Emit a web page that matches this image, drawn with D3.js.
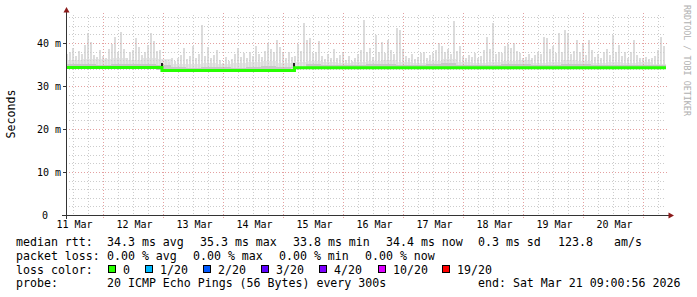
<!DOCTYPE html>
<html lang="en">
<head>
<meta charset="utf-8">
<title>SmokePing - median rtt</title>
<script src="https://d3js.org/d3.v7.min.js"></script>
<style>
  body { margin: 0; background: #fff; }
  text { font-family: "DejaVu Sans Mono", monospace; fill: #000; }
</style>
</head>
<body>
<div id="chart"></div>
<script>
// graph window (UTC), one smoke slot = 72 minutes, one base slot = 6 hours
const startTime = new Date(Date.UTC(2026, 2, 11, 9, 0, 56));
const endTime = new Date(Date.UTC(2026, 2, 21, 9, 0, 56));
const slotMinutes = 72;
const baseMinutes = 360;

// top of the smoke (max rtt, ms) per 72 min slot
const smokeTop = [
  37.5, 38.0, 38.8, 37.0, 38.2, 37.4, 39.5, 42.4, 40.2, 37.2,
  36.8, 38.4, 37.0, 36.4, 38.6, 39.8, 41.5, 38.0, 42.6, 38.5,
  36.6, 37.8, 38.4, 41.1, 39.0, 37.2, 38.0, 39.6, 42.3, 40.5,
  38.2, 38.4, 35.2, 36.0, 35.6, 36.6, 35.8, 36.4, 37.2, 38.8,
  36.2, 37.0, 39.2, 36.6, 37.4, 44.2, 37.0, 39.0, 36.4, 37.2,
  38.4, 36.0, 35.4, 36.8, 35.8, 36.2, 37.4, 38.8, 36.8, 37.6,
  36.4, 38.0, 37.0, 39.2, 37.4, 36.8, 38.2, 40.0, 38.6, 37.8,
  40.6, 39.0, 37.6, 36.6, 37.8, 36.8, 37.0, 39.8, 38.2, 44.6,
  40.6, 41.2, 37.6, 38.0, 40.4, 37.0, 36.2, 37.4, 36.6, 38.6,
  36.4, 37.2, 37.6, 36.0, 37.0, 35.8, 36.6, 37.4, 38.4, 45.3,
  37.8, 38.8, 36.8, 41.9, 38.0, 40.2, 37.6, 40.8, 38.4, 37.4,
  43.4, 43.0, 38.6, 37.0, 36.6, 37.4, 36.2, 36.8, 37.6, 38.0,
  36.6, 37.2, 37.6, 38.4, 40.0, 39.4, 38.0, 38.6, 37.4, 45.0,
  38.2, 39.4, 37.0, 36.4, 37.2, 36.8, 37.6, 36.4, 37.0, 38.4,
  41.5, 38.6, 44.6, 37.4, 38.0, 37.6, 39.4, 39.8, 38.8, 40.0,
  38.2, 37.6, 36.4, 36.8, 37.4, 36.6, 37.2, 38.0, 37.4, 41.5,
  41.2, 38.6, 39.4, 37.6, 42.4, 38.0, 43.0, 42.2, 37.4, 38.2,
  40.6, 37.8, 40.0, 37.2, 40.7, 38.4, 36.8, 37.4, 36.6, 38.0,
  38.6, 37.2, 41.9, 37.8, 39.6, 37.0, 37.8, 36.6, 38.0, 40.6,
  37.2, 36.4, 36.6, 36.8, 36.2, 36.6, 37.0, 38.4, 41.5, 39.4
];

// dense smoke top (ms) per 6 h slot
const smokeBase = [
  36.0, 36.3, 36.2, 36.5, 36.0, 36.4, 36.2, 35.2, 35.0, 35.4,
  35.0, 35.3, 35.6, 35.8, 35.4, 35.6, 35.8, 35.6, 35.3, 35.5,
  35.9, 36.0, 35.6, 35.4, 35.8, 36.2, 35.6, 35.3, 35.5, 35.9,
  36.0, 35.4, 35.6, 36.1, 35.8, 35.3, 35.5, 35.4, 35.6, 35.2
];

// darker inner smoke top (ms) per 6 h slot
const smokeInner = [
  35.0, 35.1, 34.9, 35.2, 35.0, 35.1, 34.9, 34.3, 34.2, 34.4,
  34.3, 34.2, 34.5, 34.6, 34.4, 34.5, 35.0, 34.9, 34.8, 34.9,
  35.1, 35.2, 34.9, 34.8, 35.0, 35.3, 34.9, 34.8, 34.9, 35.1,
  35.2, 34.8, 34.9, 35.2, 35.0, 34.8, 34.9, 34.8, 34.9, 34.8
];

// median rtt (ms), step changes
const medianStart = ["2026-03-11T09:00:56Z", "2026-03-12T23:24:00Z", "2026-03-15T04:24:00Z"];
const medianValue = [34.3, 33.6, 34.25];

// dark smoke at the two median jumps
const jumpTime = ["2026-03-12T23:24:00Z", "2026-03-15T04:24:00Z"];
const jumpLow = [33.7, 33.9];
const jumpHigh = [35.3, 35.3];

const yTicks = [0, 10, 20, 30, 40];
const yTickLabels = ["0", "10 m", "20 m", "30 m", "40 m"];
const dayLabels = ["11 Mar", "12 Mar", "13 Mar", "14 Mar", "15 Mar", "16 Mar", "17 Mar", "18 Mar", "19 Mar", "20 Mar"];

const lossLabels = ["0", "1/20", "2/20", "3/20", "4/20", "10/20", "19/20"];
const lossColors = ["#26ff00", "#00b8ff", "#0059ff", "#5e00ff", "#7e00ff", "#dd00ff", "#ff0000"];

const rttStats = ["34.3 ms avg", "35.3 ms max", "33.8 ms min", "34.4 ms now", "0.3 ms sd", "123.8", "am/s"];
const lossStats = ["0.00 % avg", "0.00 % max", "0.00 % min", "0.00 % now"];

const W = 697, H = 297;
const svg = d3.select("#chart").append("svg")
  .attr("width", W).attr("height", H)
  .style("display", "block");

const x = d3.scaleUtc().domain([startTime, endTime]).range([66, 666]);
const y = d3.scaleLinear().domain([0, 46.5]).range([215, 15]);

const medianDates = medianStart.map(d => new Date(d));
const bis = d3.bisector(d => d).right;
function medianAt(t) {
  const i = Math.max(0, bis(medianDates, t) - 1);
  return medianValue[i];
}

svg.append("clipPath").attr("id", "plot")
  .append("rect").attr("x", 66).attr("y", 15).attr("width", 600).attr("height", 200);

const g = svg.append("g").attr("clip-path", "url(#plot)").attr("shape-rendering", "crispEdges");

// dense smoke
g.selectAll("rect.base").data(smokeBase).join("rect")
  .attr("x", (d, i) => x(d3.utcMinute.offset(startTime, i * baseMinutes)))
  .attr("width", (d, i) => x(d3.utcMinute.offset(startTime, (i + 1) * baseMinutes)) - x(d3.utcMinute.offset(startTime, i * baseMinutes)))
  .attr("y", d => y(d))
  .attr("height", (d, i) => Math.max(0, y(medianAt(d3.utcMinute.offset(startTime, i * baseMinutes + 180))) - y(d)))
  .attr("fill", "#e6e6e6");

// spikes
g.selectAll("rect.spike").data(smokeTop).join("rect")
  .attr("x", (d, i) => Math.round(x(d3.utcMinute.offset(startTime, i * slotMinutes))))
  .attr("width", 2)
  .attr("y", d => y(d))
  .attr("height", (d, i) => Math.max(0, y(medianAt(d3.utcMinute.offset(startTime, i * slotMinutes))) - y(d)))
  .attr("fill", "#dcdcdc");

// inner smoke
g.selectAll("rect.inner").data(smokeInner).join("rect")
  .attr("x", (d, i) => x(d3.utcMinute.offset(startTime, i * baseMinutes)))
  .attr("width", (d, i) => x(d3.utcMinute.offset(startTime, (i + 1) * baseMinutes)) - x(d3.utcMinute.offset(startTime, i * baseMinutes)))
  .attr("y", d => y(d))
  .attr("height", (d, i) => Math.max(0, y(medianAt(d3.utcMinute.offset(startTime, i * baseMinutes + 180))) - y(d)))
  .attr("fill", "#c8c8c8");

// grid
const grid = svg.append("g").attr("shape-rendering", "crispEdges");
const minorX = d3.utcHour.every(6).range(startTime, endTime).filter(t => t.getUTCHours() !== 0);
const majorX = d3.utcDay.range(startTime, endTime);
const minorY = d3.range(2, 47, 2).filter(v => v % 10 !== 0 && v <= 46.5);

grid.selectAll("line.mx").data(minorX).join("line")
  .attr("x1", d => Math.round(x(d)) + 0.5).attr("x2", d => Math.round(x(d)) + 0.5)
  .attr("y1", 15).attr("y2", 215)
  .attr("stroke", "#cccccc").attr("stroke-dasharray", "1,2");
grid.selectAll("line.my").data(minorY).join("line")
  .attr("x1", 66).attr("x2", 666)
  .attr("y1", d => Math.round(y(d)) + 0.5).attr("y2", d => Math.round(y(d)) + 0.5)
  .attr("stroke", "#cccccc").attr("stroke-dasharray", "1,2");
grid.selectAll("line.Mx").data(majorX).join("line")
  .attr("x1", d => Math.round(x(d)) + 0.5).attr("x2", d => Math.round(x(d)) + 0.5)
  .attr("y1", 13).attr("y2", 218)
  .attr("stroke", "#e4a0a0").attr("stroke-dasharray", "1,2");
grid.selectAll("line.My").data(yTicks.slice(1)).join("line")
  .attr("x1", 66).attr("x2", 668)
  .attr("y1", d => Math.round(y(d)) + 0.5).attr("y2", d => Math.round(y(d)) + 0.5)
  .attr("stroke", "#e4a0a0").attr("stroke-dasharray", "1,2");

// jumps
g.selectAll("rect.jump").data(jumpTime).join("rect")
  .attr("x", d => Math.round(x(new Date(d))) - 1)
  .attr("width", 2)
  .attr("y", (d, i) => y(jumpHigh[i]))
  .attr("height", (d, i) => y(jumpLow[i]) - y(jumpHigh[i]))
  .attr("fill", "#222");

// median line
const medPts = medianDates.map((d, i) => [d, medianValue[i]]).concat([[endTime, medianValue[medianValue.length - 1]]]);
svg.append("path")
  .attr("d", d3.line().x(d => x(d[0])).y(d => y(d[1])).curve(d3.curveStepAfter)(medPts))
  .attr("fill", "none")
  .attr("stroke", lossColors[0])
  .attr("stroke-width", 3);

// axes
const ax = svg.append("g").attr("shape-rendering", "crispEdges");
ax.append("line").attr("x1", 66.5).attr("x2", 66.5).attr("y1", 219).attr("y2", 11).attr("stroke", "#333");
ax.append("line").attr("x1", 62).attr("x2", 669).attr("y1", 215.5).attr("y2", 215.5).attr("stroke", "#333");
ax.selectAll("line.yt").data(yTicks.slice(1)).join("line")
  .attr("x1", 63).attr("x2", 66)
  .attr("y1", d => Math.round(y(d)) + 0.5).attr("y2", d => Math.round(y(d)) + 0.5)
  .attr("stroke", "#333");
svg.append("path").attr("d", "M63.5,12.5L69.5,12.5L66.5,7Z").attr("fill", "#8b1a1a");
svg.append("path").attr("d", "M668.5,212.5L668.5,218.5L674,215.5Z").attr("fill", "#8b1a1a");

// tick labels
svg.selectAll("text.yl").data(yTicks).join("text")
  .attr("x", (d, i) => i === 0 ? 48 : 61)
  .attr("y", d => Math.round(y(d)) + 4)
  .attr("text-anchor", "end")
  .style("font-size", "10px")
  .text((d, i) => yTickLabels[i]);

svg.selectAll("text.xl").data(dayLabels).join("text")
  .attr("x", (d, i) => x(d3.utcHour.offset(d3.utcDay.floor(startTime), 24 * i + 12)) + 1)
  .attr("y", 228)
  .attr("text-anchor", "middle")
  .style("font-size", "10px")
  .text(d => d);

svg.append("text")
  .attr("transform", "translate(14.5,114) rotate(-90)")
  .attr("text-anchor", "middle")
  .style("font-size", "11.6px")
  .text("Seconds");

svg.append("text")
  .attr("transform", "translate(684,5) rotate(90)")
  .style("font-size", "8.4px")
  .style("fill", "#b0b0b0")
  .text("RRDTOOL / TOBI OETIKER");

// legend
const lg = svg.append("g").style("font-size", "11.6px");
const rowY = [245.5, 259.5, 273.5, 287.3];
lg.append("text").attr("x", 16).attr("y", rowY[0]).text("median rtt:");
const rttX = [107, 200, 293, 386, 478, 558, 614];
lg.selectAll("text.rs").data(rttStats).join("text")
  .attr("x", (d, i) => rttX[i]).attr("y", rowY[0]).text(d => d);

lg.append("text").attr("x", 16).attr("y", rowY[1]).text("packet loss:");
const lossX = [107, 193, 279, 365];
lg.selectAll("text.ls").data(lossStats).join("text")
  .attr("x", (d, i) => lossX[i]).attr("y", rowY[1]).text(d => d);

lg.append("text").attr("x", 16).attr("y", rowY[2]).text("loss color:");
const boxX = [108.5, 145.5, 203.5, 261.5, 319.5, 378.5, 442.5];
lg.selectAll("rect.lb").data(lossColors).join("rect")
  .attr("x", (d, i) => boxX[i]).attr("y", 265.5)
  .attr("width", 7).attr("height", 7)
  .attr("fill", d => d).attr("stroke", "#000");
lg.selectAll("text.lc").data(lossLabels).join("text")
  .attr("x", (d, i) => boxX[i] + 14.5).attr("y", rowY[2]).text(d => d);

lg.append("text").attr("x", 16).attr("y", rowY[3]).text("probe:");
lg.append("text").attr("x", 107).attr("y", rowY[3]).text("20 ICMP Echo Pings (56 Bytes) every 300s");
lg.append("text").attr("x", 478).attr("y", rowY[3]).text("end: Sat Mar 21 09:00:56 2026");
</script>
</body>
</html>
